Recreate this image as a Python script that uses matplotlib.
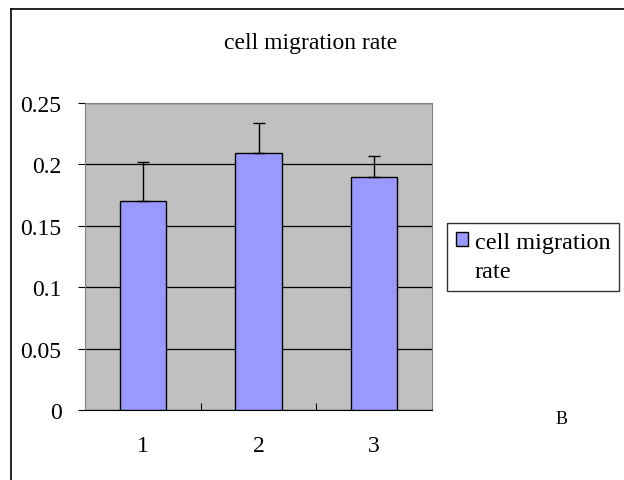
import matplotlib.pyplot as plt
from matplotlib.patches import Patch
from matplotlib.lines import Line2D

# 数据
groups = ["1", "2", "3"]
rate = [0.170, 0.209, 0.190]
err_up = [0.032, 0.025, 0.017]
y_ticks = [0, 0.05, 0.1, 0.15, 0.2, 0.25]
y_labels = ["0", "0.05", "0.1", "0.15", "0.2", "0.25"]

plt.rcParams['font.family'] = ['Liberation Serif', 'DejaVu Serif']

fig = plt.figure(figsize=(6.24, 4.81), dpi=100)
ax = fig.add_axes([85 / 624, 1 - 411 / 481, 347 / 624, 307 / 481])

x = list(range(len(groups)))
ax.bar(x, rate, width=0.4, color="#9999FF", edgecolor="black", linewidth=1,
       zorder=3, yerr=[[0] * 3, err_up], capsize=4,
       error_kw=dict(elinewidth=1, capthick=1, ecolor="black", zorder=4))

ax.set_facecolor("#C0C0C0")
ax.set_xlim(-0.5, 2.5)
ax.set_ylim(0, 0.25)
ax.set_yticks(y_ticks)
ax.set_yticklabels(y_labels, fontsize=17)
ax.yaxis.grid(True, color="black", linewidth=0.9, zorder=1)
ax.set_axisbelow(True)
ax.tick_params(axis="y", direction="out", length=5, pad=12)

# x 轴：类别标签在中间，刻度线在边界
ax.set_xticks([0.5, 1.5], minor=False)
ax.set_xticklabels([])
ax.set_xticks(x, minor=True)
ax.set_xticklabels(groups, minor=True, fontsize=17)
ax.tick_params(axis="x", which="major", direction="in", length=5)
ax.tick_params(axis="x", which="minor", length=0, pad=18)

for s in ["top", "right", "left"]:
    ax.spines[s].set_color("#808080")
ax.spines["bottom"].set_color("black")

fig.text(311 / 624, 1 - 43 / 481, "cell migration rate", ha="center", va="center",
         fontsize=17)
fig.text(562 / 624, 1 - 420 / 481, "B", ha="center", va="center", fontsize=13)

handles = [Patch(facecolor="#9999FF", edgecolor="black"),
           Line2D([], [], color="none")]
leg = fig.legend(handles, ["cell migration", "rate"], loc="upper left",
                 bbox_to_anchor=(447 / 624, 1 - 224 / 481), fontsize=17.5,
                 frameon=True, fancybox=False, edgecolor="black",
                 handlelength=0.5, handleheight=0.5, handletextpad=0.3,
                 borderpad=0.35, labelspacing=0.35, borderaxespad=0)
leg.get_frame().set_linewidth(1)

# 外框
fig.add_artist(Line2D([11 / 624, 11 / 624], [0, 1 - 10 / 481], color="black",
                      linewidth=1.2, transform=fig.transFigure))
fig.add_artist(Line2D([11 / 624, 1], [1 - 10 / 481, 1 - 10 / 481], color="black",
                      linewidth=1.2, transform=fig.transFigure))

fig.savefig("out.png", dpi=100)
